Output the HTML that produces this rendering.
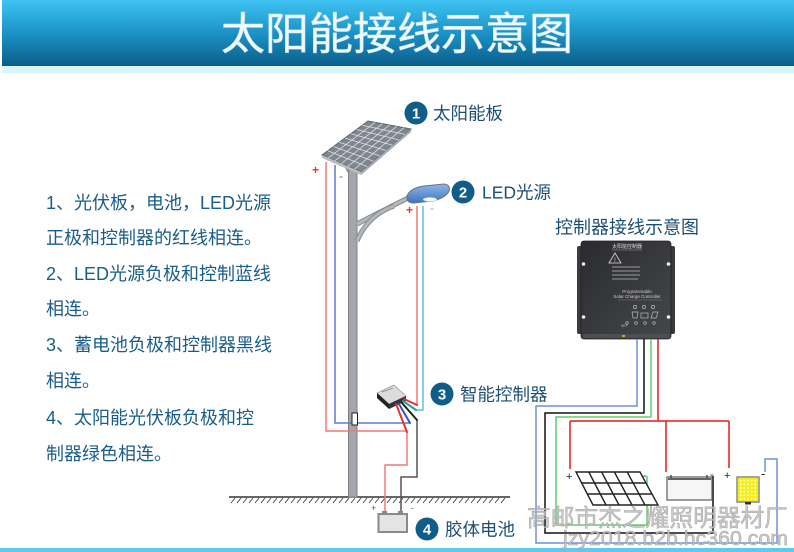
<!DOCTYPE html>
<html>
<head>
<meta charset="utf-8">
<style>
html,body{margin:0;padding:0;background:#fff;}
body{width:794px;height:552px;overflow:hidden;}
svg{display:block;}
text{font-family:"Liberation Sans","Noto Sans CJK SC",sans-serif;}
</style>
</head>
<body>
<svg width="794" height="552" viewBox="0 0 794 552" xmlns="http://www.w3.org/2000/svg">
<defs>
<linearGradient id="hdr" x1="0" y1="0" x2="0" y2="1">
<stop offset="0" stop-color="#3fc3f3"/>
<stop offset="0.5" stop-color="#1b93c7"/>
<stop offset="1" stop-color="#0a5d89"/>
</linearGradient>
<linearGradient id="ctl" x1="0" y1="0" x2="1" y2="1">
<stop offset="0" stop-color="#2a2b2e"/>
<stop offset="1" stop-color="#46474b"/>
</linearGradient>
<linearGradient id="lamp" x1="0" y1="0" x2="0" y2="1">
<stop offset="0" stop-color="#8fb6e8"/>
<stop offset="1" stop-color="#3f74c0"/>
</linearGradient>
<pattern id="leds" x="739" y="479" width="3.6" height="3.6" patternUnits="userSpaceOnUse">
<rect width="3.6" height="3.6" fill="#f4ee1c"/>
<circle cx="1.8" cy="1.8" r="0.9" fill="#fffbe0"/>
</pattern>
</defs>

<!-- header -->
<rect x="2" y="0" width="792" height="66" fill="url(#hdr)"/>
<rect x="2" y="66" width="792" height="7" fill="#dcf4fb"/>
<text x="397" y="49" font-size="44" fill="#f2fafd" text-anchor="middle" stroke="#cde9f5" stroke-width="0.6">太阳能接线示意图</text>

<!-- bottom strip -->
<rect x="0" y="548" width="794" height="4" fill="#5ccaf2"/>

<!-- left text -->
<g font-size="18" fill="#1a5d8a">
<text x="46" y="209">1、光伏板，电池，LED光源</text>
<text x="46" y="244">正极和控制器的红线相连。</text>
<text x="46" y="280">2、LED光源负极和控制蓝线</text>
<text x="46" y="315">相连。</text>
<text x="46" y="351">3、蓄电池负极和控制器黑线</text>
<text x="46" y="387">相连。</text>
<text x="46" y="424">4、太阳能光伏板负极和控</text>
<text x="46" y="460">制器绿色相连。</text>
</g>

<!-- ground -->
<line x1="229" y1="497" x2="510" y2="497" stroke="#333" stroke-width="1.6"/>
<path stroke="#444" stroke-width="0.9" fill="none" d="
M231,503 l4,-5 M237,503 l4,-5 M243,503 l4,-5 M249,503 l4,-5 M255,503 l4,-5 M261,503 l4,-5 M267,503 l4,-5 M273,503 l4,-5 M279,503 l4,-5 M285,503 l4,-5
M291,503 l4,-5 M297,503 l4,-5 M303,503 l4,-5 M309,503 l4,-5 M315,503 l4,-5 M321,503 l4,-5 M327,503 l4,-5 M333,503 l4,-5 M339,503 l4,-5 M345,503 l4,-5
M351,503 l4,-5 M357,503 l4,-5 M363,503 l4,-5 M369,503 l4,-5 M375,503 l4,-5 M381,503 l4,-5 M387,503 l4,-5 M393,503 l4,-5 M399,503 l4,-5 M405,503 l4,-5
M411,503 l4,-5 M417,503 l4,-5 M423,503 l4,-5 M429,503 l4,-5 M435,503 l4,-5 M441,503 l4,-5 M447,503 l4,-5 M453,503 l4,-5 M459,503 l4,-5 M465,503 l4,-5
M471,503 l4,-5 M477,503 l4,-5 M483,503 l4,-5 M489,503 l4,-5 M495,503 l4,-5 M501,503 l4,-5"/>

<!-- pole -->
<rect x="348.5" y="170" width="8.5" height="327" fill="#a3a7ac" stroke="#7c8085" stroke-width="1"/>
<path d="M349,172 L344,163 M357,172 L364,164" stroke="#8a8e93" stroke-width="3" fill="none"/>
<!-- arms -->
<path d="M357,224 Q380,212 408,198" stroke="#868a8f" stroke-width="5" fill="none"/>
<path d="M357,224 Q380,212 408,198" stroke="#b4b8bc" stroke-width="3" fill="none"/>
<path d="M357,241 Q368,215 394,206" stroke="#868a8f" stroke-width="5" fill="none"/>
<path d="M357,241 Q368,215 394,206" stroke="#b4b8bc" stroke-width="3" fill="none"/>
<!-- lamp head -->
<path d="M407,196 Q410,188 424,186 L444,184 Q451,185 449,191 Q446,198 432,201 L414,203 Q406,203 407,196 Z" fill="url(#lamp)" stroke="#6a7280" stroke-width="1"/>
<ellipse cx="430" cy="199.5" rx="7" ry="2.2" fill="#eef6ff" stroke="#9aa" stroke-width="0.5"/>

<!-- solar panel on pole -->
<polygon points="322,155 368,121 411,129 361,172" fill="#7f868e" stroke="#5e646b" stroke-width="1"/>
<polygon points="322,155 361,172 361,175 322,158" fill="#b9bdc2"/>
<polygon points="361,172 411,129 411,132 361,175" fill="#a5aab0"/>
<g stroke="#dde1e5" stroke-width="0.8">
<line x1="327.75" y1="150.75" x2="367.25" y2="166.6"/>
<line x1="333.5" y1="146.5" x2="373.5" y2="161.25"/>
<line x1="339.25" y1="142.25" x2="379.75" y2="155.9"/>
<line x1="345" y1="138" x2="386" y2="150.5"/>
<line x1="350.75" y1="133.75" x2="392.25" y2="145.1"/>
<line x1="356.5" y1="129.5" x2="398.5" y2="139.75"/>
<line x1="362.25" y1="125.25" x2="404.75" y2="134.4"/>
<line x1="328.5" y1="157.8" x2="375.2" y2="122.3"/>
<line x1="335" y1="160.7" x2="382.3" y2="123.7"/>
<line x1="341.5" y1="163.5" x2="389.5" y2="125"/>
<line x1="348" y1="166.3" x2="396.7" y2="126.3"/>
<line x1="354.5" y1="169.2" x2="403.8" y2="127.7"/>
</g>

<!-- pole wires -->
<g fill="none" stroke-width="1.5">
<path d="M326,162 V431 H407" stroke="#f07a7a"/>
<path d="M335,165 V423 H410" stroke="#6078cf"/>
<path d="M417,206 V405" stroke="#f07a7a"/>
<path d="M423,206 V410 H416" stroke="#5cc4e2"/>
<path d="M407,432 V465 H385 V513" stroke="#f07a7a"/>
<path d="M417,420 V477 H401 V513" stroke="#555"/>
</g>
<text x="312" y="174" font-size="12" fill="#e33" font-weight="bold">+</text>
<text x="339" y="180" font-size="12" fill="#5070c8">-</text>
<text x="406" y="214" font-size="12" fill="#e33" font-weight="bold">+</text>
<text x="430" y="212" font-size="12" fill="#4ab8de">-</text>

<!-- junction box -->
<rect x="352" y="413" width="5.5" height="12" fill="#fff" stroke="#222" stroke-width="1"/>

<!-- small controller -->
<polygon points="377,393 394,385 406,396 389,404" fill="#dcdcdc" stroke="#888" stroke-width="0.6"/>
<polygon points="377,393 389,404 389,409 377,398" fill="#222"/>
<polygon points="389,404 406,396 406,401 389,409" fill="#333"/>
<line x1="382" y1="392" x2="393" y2="388" stroke="#999" stroke-width="1"/>
<g fill="none" stroke-width="2" stroke-linecap="round">
<path d="M396,404 L407,432" stroke="#e53030"/>
<path d="M399,404 L410,423" stroke="#2a56c8"/>
<path d="M402,403 L417,420" stroke="#222"/>
<path d="M403,401 L416,410" stroke="#2aa090"/>
<path d="M404,399 L417,405" stroke="#e53030"/>
</g>

<!-- battery on ground -->
<rect x="382" y="511" width="5" height="3" fill="#888"/>
<rect x="398" y="511" width="5" height="3" fill="#888"/>
<rect x="378.5" y="514" width="28.5" height="18" fill="#e4e4e4" stroke="#8a8a8a" stroke-width="2"/>
<text x="371" y="511" font-size="9" fill="#555">+</text>
<text x="411" y="511" font-size="9" fill="#555">-</text>

<!-- numbered labels -->
<g font-size="17.5" fill="#1d4f74">
<circle cx="416" cy="113" r="11.5" fill="#0f5d88"/>
<text x="416" y="118.5" font-size="15" font-weight="bold" fill="#fff" text-anchor="middle">1</text>
<text x="433" y="119.5">太阳能板</text>
<circle cx="463" cy="192" r="11.5" fill="#0f5d88"/>
<text x="463" y="197.5" font-size="15" font-weight="bold" fill="#fff" text-anchor="middle">2</text>
<text x="482" y="198.5">LED光源</text>
<circle cx="442" cy="394" r="11.5" fill="#0f5d88"/>
<text x="442" y="399.5" font-size="15" font-weight="bold" fill="#fff" text-anchor="middle">3</text>
<text x="460" y="400.5">智能控制器</text>
<circle cx="427" cy="529" r="11.5" fill="#0f5d88"/>
<text x="427" y="534.5" font-size="15" font-weight="bold" fill="#fff" text-anchor="middle">4</text>
<text x="445" y="535.5">胶体电池</text>
<text x="555" y="233.5" font-size="18">控制器接线示意图</text>
</g>

<!-- controller photo -->
<rect x="577" y="246" width="98" height="88" rx="2" fill="#3a3b3e"/>
<rect x="581" y="241" width="90" height="98" rx="3" fill="url(#ctl)" stroke="#222" stroke-width="0.8"/>
<circle cx="583.5" cy="264" r="1.8" fill="#eee"/>
<circle cx="583.5" cy="317" r="1.8" fill="#eee"/>
<circle cx="668.5" cy="264" r="1.8" fill="#eee"/>
<circle cx="668.5" cy="317" r="1.8" fill="#eee"/>
<text x="627" y="248" font-size="5" fill="#ddd" text-anchor="middle">太阳能控制器</text>
<line x1="612" y1="250" x2="642" y2="250" stroke="#bbb" stroke-width="0.4"/>
<polygon points="609,263 615,253 621,263" fill="none" stroke="#ddd" stroke-width="0.8"/>
<text x="615" y="262" font-size="6" fill="#ddd" text-anchor="middle">!</text>
<g stroke="#9a9a9a" stroke-width="1">
<line x1="612" y1="267" x2="640" y2="267"/>
<line x1="612" y1="271" x2="640" y2="271"/>
<line x1="612" y1="275" x2="640" y2="275"/>
<line x1="612" y1="279" x2="638" y2="279"/>
</g>
<text x="637" y="293" font-size="4.5" fill="#ccc" text-anchor="middle">Programmable</text>
<text x="637" y="298" font-size="4.5" fill="#ccc" text-anchor="middle">Solar Charge Controller</text>
<line x1="618" y1="300" x2="662" y2="300" stroke="#888" stroke-width="0.4"/>
<g fill="none" stroke="#bbb" stroke-width="0.7">
<circle cx="635" cy="307" r="1.6"/>
<circle cx="644" cy="307" r="1.6"/>
<circle cx="653" cy="307" r="1.6"/>
<path d="M632,312 h6 l-1,6 h-4 z"/>
<rect x="641" y="313" width="7" height="5"/>
<path d="M651,318 l2,-6 h5 l-2,6 z"/>
<circle cx="627" cy="323" r="1.3"/>
<circle cx="636" cy="323" r="1.3"/>
<circle cx="645" cy="323" r="1.3"/>
<circle cx="654" cy="323" r="1.3"/>
</g>
<text x="621" y="327" font-size="3.5" fill="#bbb">SET</text>
<rect x="583" y="334" width="86" height="4" fill="#4e4f53"/>
<rect x="622" y="335" width="3" height="2" fill="#c9a93a"/>

<!-- right wiring -->
<g fill="none" stroke-width="1.5">
<path d="M637,339 V406 H536 V543 H777 V459 H765 V472" stroke="#6c90e2"/>
<path d="M644,339 V413 H545 V533 H713 V476" stroke="#111"/>
<path d="M651,339 V417 H556 V525 H647 V476" stroke="#5ccf6c"/>
<path d="M658,339 V421 M570,421 H729 M570,421 V469 M666,421 V472 M729,421 V468" stroke="#e51c1c"/>
</g>

<!-- small solar panel -->
<g stroke="#222" stroke-width="1.4" fill="none">
<polygon points="576,472 640,472 658,505 593,505" fill="#fff"/>
<line x1="588.8" y1="472" x2="606" y2="505"/>
<line x1="601.6" y1="472" x2="619" y2="505"/>
<line x1="614.4" y1="472" x2="632" y2="505"/>
<line x1="627.2" y1="472" x2="645" y2="505"/>
<line x1="581.7" y1="483" x2="646" y2="483"/>
<line x1="587.3" y1="494" x2="652" y2="494"/>
</g>
<!-- battery -->
<rect x="667" y="477" width="45" height="23" fill="#f6f6f6" stroke="#6a6a6a" stroke-width="1.3"/>
<line x1="668" y1="479" x2="711" y2="479" stroke="#333" stroke-width="1.5"/>
<line x1="671" y1="475" x2="671" y2="478" stroke="#333" stroke-width="1.2"/>
<line x1="707" y1="475" x2="707" y2="478" stroke="#333" stroke-width="1.2"/>
<!-- LED module -->
<rect x="737" y="477" width="22" height="25" fill="url(#leds)" stroke="#8a8a8a" stroke-width="1.5"/>
<rect x="745" y="502" width="6" height="2.5" fill="#333"/>

<g font-size="11" fill="#222">
<text x="566" y="480">+</text>
<text x="643" y="479">-</text>
<text x="710" y="478">-</text>
<text x="724" y="479">+</text>
<text x="761" y="478" font-size="13">-</text>
</g>

<!-- watermark -->
<text x="527" y="526" font-size="24" fill="#c4c4c4" stroke="#9c9c9c" stroke-width="0.5" textLength="261" lengthAdjust="spacingAndGlyphs" opacity="0.9">高邮市杰之耀照明器材厂</text>
<text x="563" y="545" font-size="20" fill="#c4c4c4" stroke="#9c9c9c" stroke-width="0.5" textLength="225" lengthAdjust="spacingAndGlyphs" opacity="0.9">jzy2018.b2b.hc360.com</text>
</svg>
</body>
</html>
